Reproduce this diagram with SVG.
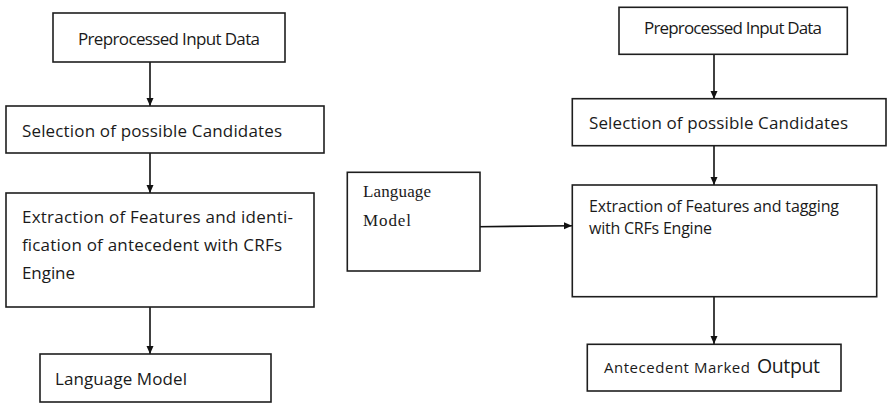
<svg xmlns="http://www.w3.org/2000/svg" width="891" height="414" viewBox="0 0 891 414">
<style>
.box{fill:#fff;stroke:#1e1e1e;stroke-width:1.6}
.t{font-family:"Open Sans","Liberation Sans",sans-serif;font-size:17px;fill:#1a1a1a}
.s{font-family:"Liberation Serif","Times New Roman",serif;font-size:17px;fill:#1a1a1a}
.c{stroke:#111;stroke-width:1.6;fill:none;marker-end:url(#ah)}
</style>
<defs>
<marker id="ah" markerUnits="userSpaceOnUse" markerWidth="9" markerHeight="8" refX="8" refY="3.5" orient="auto">
<path d="M0,0 L8,3.5 L0,7 z" fill="#111"/>
</marker>
</defs>
<rect width="891" height="414" fill="#fff"/>
<g id="connectors">
<line class="c" x1="150" y1="62" x2="150" y2="106"/>
<line class="c" x1="150" y1="153" x2="150" y2="193"/>
<line class="c" x1="150" y1="307" x2="150" y2="354"/>
<line class="c" x1="714" y1="54" x2="714" y2="99"/>
<line class="c" x1="714" y1="146" x2="714" y2="185"/>
<line class="c" x1="714" y1="297" x2="714" y2="344"/>
<line class="c" x1="477" y1="226.7" x2="572" y2="225.7"/>
</g>
<g id="left-input">
<rect class="box" x="53" y="13" width="232" height="49"/>
<text class="t" x="78" y="45" textLength="182" lengthAdjust="spacing">Preprocessed Input Data</text>
</g>
<g id="left-selection">
<rect class="box" x="6" y="106" width="318" height="47"/>
<text class="t" x="22" y="137" textLength="260" lengthAdjust="spacing">Selection of possible Candidates</text>
</g>
<g id="left-extraction">
<rect class="box" x="6" y="193" width="308" height="114"/>
<text class="t" x="22" y="223" textLength="271" lengthAdjust="spacing">Extraction of Features and identi-</text>
<text class="t" x="22" y="251" textLength="260" lengthAdjust="spacing">fication of antecedent with CRFs</text>
<text class="t" x="22" y="279" textLength="53" lengthAdjust="spacing">Engine</text>
</g>
<g id="left-language-model">
<rect class="box" x="40" y="354" width="231" height="48"/>
<text class="t" x="55" y="385" textLength="132" lengthAdjust="spacing">Language Model</text>
</g>
<g id="language-model">
<rect class="box" x="347.3" y="172.3" width="132.7" height="98.7"/>
<text class="s" x="363" y="197" textLength="68" lengthAdjust="spacing">Language</text>
<text class="s" x="363" y="226" textLength="48" lengthAdjust="spacing">Model</text>
</g>
<g id="right-input">
<rect class="box" x="619" y="7.3" width="228.3" height="47"/>
<text class="t" x="644" y="34" textLength="178" lengthAdjust="spacing">Preprocessed Input Data</text>
</g>
<g id="right-selection">
<rect class="box" x="572.3" y="98.7" width="313.7" height="47"/>
<text class="t" x="589" y="128.5" textLength="259" lengthAdjust="spacing">Selection of possible Candidates</text>
</g>
<g id="right-extraction">
<rect class="box" x="572.3" y="185" width="304.4" height="111.7"/>
<text class="t" x="589" y="212" style="font-size:16px" textLength="250" lengthAdjust="spacing">Extraction of Features and tagging</text>
<text class="t" x="589" y="234" style="font-size:16px" textLength="123" lengthAdjust="spacing">with CRFs Engine</text>
</g>
<g id="right-output">
<rect class="box" x="587.3" y="344.3" width="253.7" height="46.7"/>
<text class="t" x="604" y="373" style="font-size:15px" textLength="146" lengthAdjust="spacing">Antecedent Marked</text>
<text class="t" x="757" y="373" style="font-size:19.5px" textLength="63" lengthAdjust="spacing">Output</text>
</g>
</svg>
